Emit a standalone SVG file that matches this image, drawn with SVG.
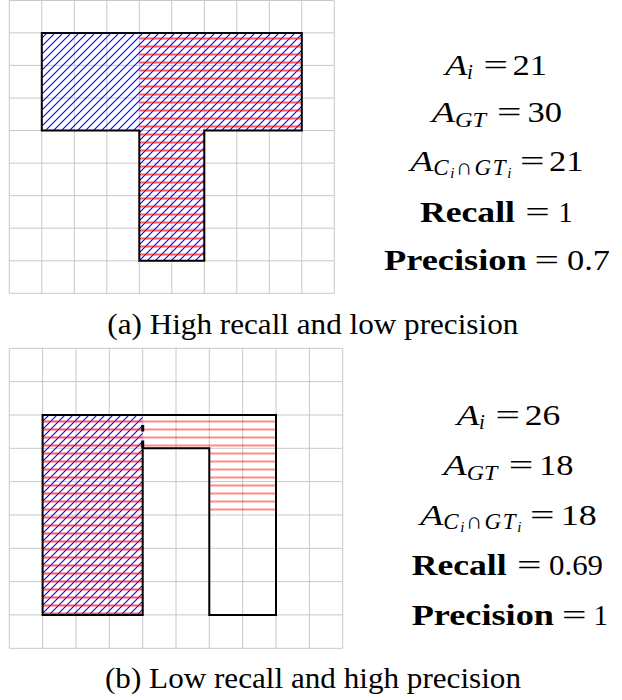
<svg xmlns="http://www.w3.org/2000/svg" width="622" height="700" viewBox="0 0 622 700">
<style>
.grid{fill:none;stroke:#c8c8c8;stroke-width:1}
.outline{fill:none;stroke:#000;stroke-width:2;stroke-linejoin:miter}
.t{font-family:"Liberation Serif","Times New Roman",serif;fill:#000}
.m{font-size:29px}
.it{font-style:italic}
.up{font-style:normal}
.sub{font-size:21px}
.sub2{font-size:23px}
.ss{font-size:15px}
.b{font-weight:bold}
.cap{font-size:29px}
</style>
<defs>
<pattern id="blueNE" patternUnits="userSpaceOnUse" width="8" height="8">
<path d="M0,8 L8,0 M-1,1 L1,-1 M7,9 L9,7" stroke="#0000ff" stroke-width="1.1" fill="none"/>
</pattern>
<pattern id="redA" patternUnits="userSpaceOnUse" x="0" y="34.5" width="8" height="8">
<path d="M-1,4 H9" stroke="#ff0000" stroke-width="1.3" fill="none"/>
</pattern>
<pattern id="redB" patternUnits="userSpaceOnUse" x="0" y="417.5" width="8" height="8">
<path d="M-1,4 H9" stroke="#ff0000" stroke-width="1.3" fill="none"/>
</pattern>
<pattern id="redBl" patternUnits="userSpaceOnUse" x="0" y="417.5" width="8" height="8">
<path d="M-1,4 H9" stroke="#ff0000" stroke-opacity="0.7" stroke-width="1.3" fill="none"/>
</pattern>
</defs>
<rect x="0" y="0" width="622" height="700" fill="#fff"/>

<g id="panel-a">
<g id="grid-a">
<path class="grid" d="M9.3,0.5 V293.3 M41.8,0.5 V293.3 M74.3,0.5 V293.3 M106.8,0.5 V293.3 M139.3,0.5 V293.3 M171.8,0.5 V293.3 M204.3,0.5 V293.3 M236.8,0.5 V293.3 M269.3,0.5 V293.3 M301.8,0.5 V293.3 M334.3,0.5 V293.3 M9.3,0.5 H334.3 M9.3,32.9 H334.3 M9.3,65.4 H334.3 M9.3,98 H334.3 M9.3,130.5 H334.3 M9.3,163.1 H334.3 M9.3,195.7 H334.3 M9.3,228.2 H334.3 M9.3,260.8 H334.3 M9.3,293.3 H334.3"/>
</g>
<g id="shape-a">
<path d="M41.8,32.9 H301.8 V130.5 H204.3 V260.8 H139.3 V130.5 H41.8 Z" fill="url(#blueNE)"/>
<path d="M139.3,32.9 H301.8 V130.5 H204.3 V260.8 H139.3 Z" fill="url(#redA)"/>
<path class="outline" d="M41.8,32.9 H301.8 V130.5 H204.3 V260.8 H139.3 V130.5 H41.8 Z"/>
</g>
<g id="metrics-a" class="t">
<text class="m it" x="445" y="74.5" textLength="22.3" lengthAdjust="spacingAndGlyphs">A</text>
<text class="sub it" x="467" y="78.5">i</text>
<text class="m" transform="translate(495.7,74.5) scale(1.5,1)" text-anchor="middle">=</text>
<text class="m" x="512.5" y="74.5" textLength="34.5" lengthAdjust="spacingAndGlyphs">21</text>

<text class="m it" x="431.7" y="122" textLength="23.3" lengthAdjust="spacingAndGlyphs">A</text>
<text class="sub it" x="455" y="127" textLength="31" lengthAdjust="spacingAndGlyphs">GT</text>
<text class="m" transform="translate(509.3,122) scale(1.5,1)" text-anchor="middle">=</text>
<text class="m" x="527.5" y="122" textLength="34.5" lengthAdjust="spacingAndGlyphs">30</text>

<text class="m it" x="410" y="170.5" textLength="23.3" lengthAdjust="spacingAndGlyphs">A</text>
<text class="sub2 it" x="433.3" y="174.5" textLength="78" lengthAdjust="spacing">C<tspan class="ss" dy="3">i</tspan><tspan class="up" dy="-3">∩</tspan>GT<tspan class="ss" dy="3">i</tspan></text>
<text class="m" transform="translate(532.3,170.5) scale(1.5,1)" text-anchor="middle">=</text>
<text class="m" x="549" y="170.5" textLength="34.5" lengthAdjust="spacingAndGlyphs">21</text>

<text class="m b" x="420" y="221.5" textLength="95" lengthAdjust="spacingAndGlyphs">Recall</text>
<text class="m" transform="translate(537.6,221.5) scale(1.5,1)" text-anchor="middle">=</text>
<text class="m" x="565.5" y="221.5" text-anchor="middle">1</text>

<text class="m b" x="384" y="270" textLength="142.7" lengthAdjust="spacingAndGlyphs">Precision</text>
<text class="m" transform="translate(546.8,270) scale(1.5,1)" text-anchor="middle">=</text>
<text class="m" x="567" y="270" textLength="43" lengthAdjust="spacingAndGlyphs">0.7</text>
</g>
<g id="caption-a" class="t">
<text class="cap" x="107.3" y="334" textLength="411" lengthAdjust="spacingAndGlyphs">(a) High recall and low precision</text>
</g>
</g>

<g id="panel-b">
<g id="grid-b">
<path class="grid" d="M9.3,348.3 V648.3 M42.6,348.3 V648.3 M76,348.3 V648.3 M109.3,348.3 V648.3 M142.7,348.3 V648.3 M176,348.3 V648.3 M209.3,348.3 V648.3 M242.7,348.3 V648.3 M276,348.3 V648.3 M309.4,348.3 V648.3 M342.7,348.3 V648.3 M9.3,348.3 H342.7 M9.3,381.6 H342.7 M9.3,415 H342.7 M9.3,448.3 H342.7 M9.3,481.6 H342.7 M9.3,515 H342.7 M9.3,548.3 H342.7 M9.3,581.6 H342.7 M9.3,614.9 H342.7 M9.3,648.3 H342.7"/>
</g>
<g id="shape-b">
<rect x="42.6" y="415" width="100.1" height="199.9" fill="url(#blueNE)"/>
<rect x="42.6" y="415" width="100.1" height="199.9" fill="url(#redB)"/>
<path d="M142.7,415 H276 V512 H209.3 V448.3 H142.7 Z" fill="url(#redBl)"/>
<path class="outline" d="M42.6,415 H276 V614.9 H209.3 V448.3 H142.7 V614.9 H42.6 Z"/>
<rect x="141.2" y="425" width="3" height="6.5" fill="#000"/>
<rect x="141.2" y="440.5" width="3" height="8" fill="#000"/>
</g>
<g id="metrics-b" class="t">
<text class="m it" x="456.7" y="424.5" textLength="22.6" lengthAdjust="spacingAndGlyphs">A</text>
<text class="sub it" x="479" y="428.5">i</text>
<text class="m" transform="translate(507.7,424.5) scale(1.5,1)" text-anchor="middle">=</text>
<text class="m" x="524.8" y="424.5" textLength="35.5" lengthAdjust="spacingAndGlyphs">26</text>

<text class="m it" x="443.3" y="475" textLength="23.4" lengthAdjust="spacingAndGlyphs">A</text>
<text class="sub it" x="466.7" y="480" textLength="30.6" lengthAdjust="spacingAndGlyphs">GT</text>
<text class="m" transform="translate(521,475) scale(1.5,1)" text-anchor="middle">=</text>
<text class="m" x="539" y="475" textLength="34.5" lengthAdjust="spacingAndGlyphs">18</text>

<text class="m it" x="420" y="525" textLength="23.3" lengthAdjust="spacingAndGlyphs">A</text>
<text class="sub2 it" x="443.3" y="529" textLength="78" lengthAdjust="spacing">C<tspan class="ss" dy="3">i</tspan><tspan class="up" dy="-3">∩</tspan>GT<tspan class="ss" dy="3">i</tspan></text>
<text class="m" transform="translate(542.3,525) scale(1.5,1)" text-anchor="middle">=</text>
<text class="m" x="560.7" y="525" textLength="36" lengthAdjust="spacingAndGlyphs">18</text>

<text class="m b" x="411.7" y="575" textLength="95" lengthAdjust="spacingAndGlyphs">Recall</text>
<text class="m" transform="translate(529.3,575) scale(1.5,1)" text-anchor="middle">=</text>
<text class="m" x="549" y="575" textLength="54" lengthAdjust="spacingAndGlyphs">0.69</text>

<text class="m b" x="411.7" y="625" textLength="142.3" lengthAdjust="spacingAndGlyphs">Precision</text>
<text class="m" transform="translate(574.3,625) scale(1.5,1)" text-anchor="middle">=</text>
<text class="m" x="600.8" y="625" text-anchor="middle">1</text>
</g>
<g id="caption-b" class="t">
<text class="cap" x="105" y="688" textLength="416" lengthAdjust="spacingAndGlyphs">(b) Low recall and high precision</text>
</g>
</g>
</svg>
